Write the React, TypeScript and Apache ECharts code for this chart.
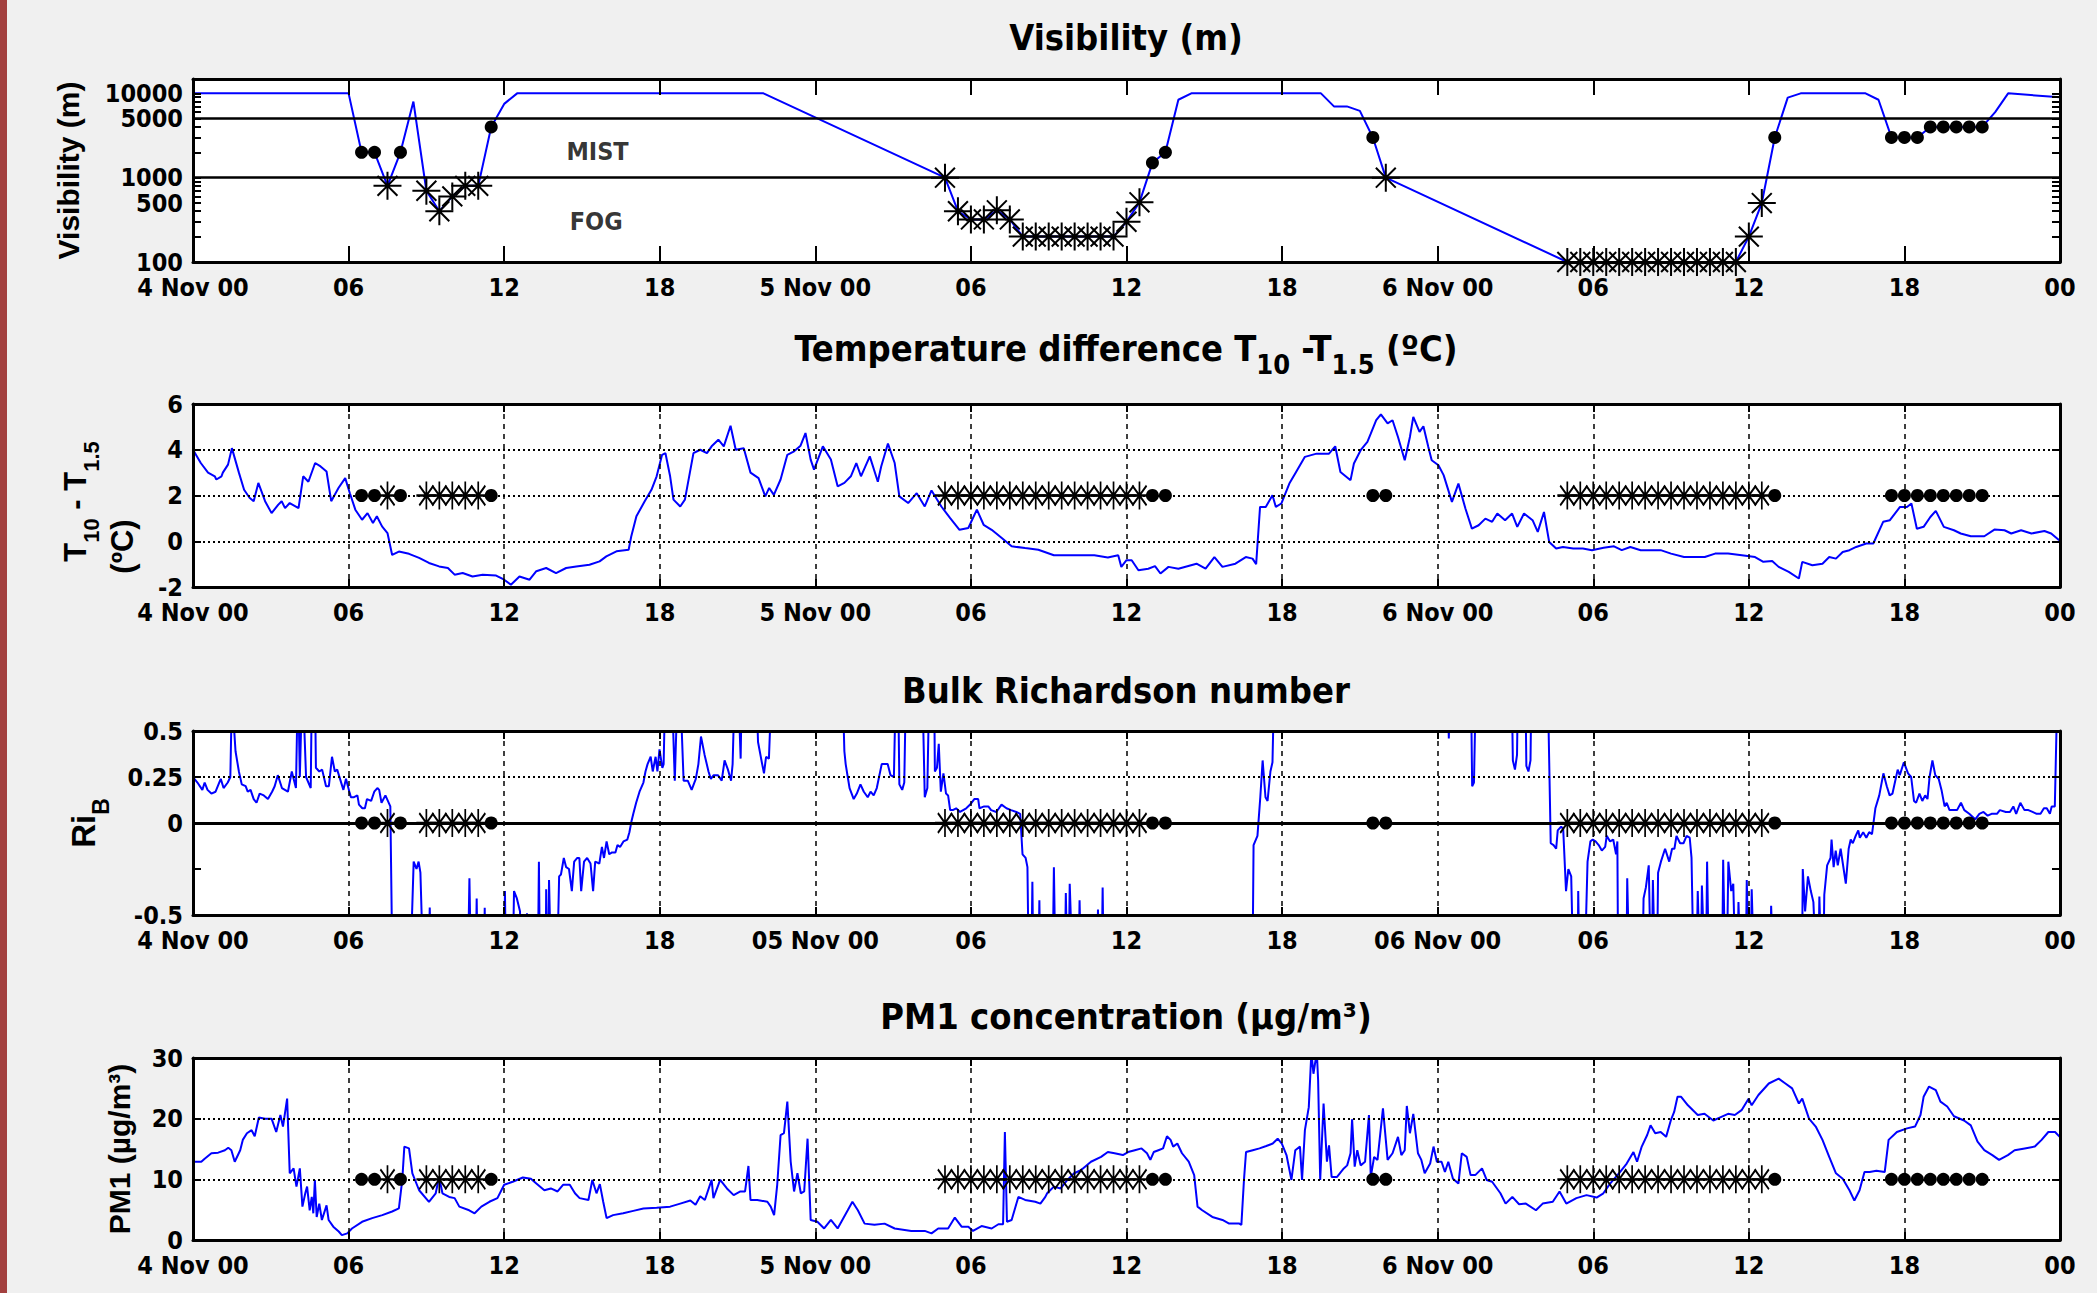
import React, { useEffect, useRef } from "react";
import * as echarts from "echarts";

// ---------------- DATA ----------------
const xTickLabels = ["4 Nov 00", "06", "12", "18", "5 Nov 00", "06", "12", "18", "6 Nov 00", "06", "12", "18", "00"];
const xTickLabelsRi = ["4 Nov 00", "06", "12", "18", "05 Nov 00", "06", "12", "18", "06 Nov 00", "06", "12", "18", "00"];

// Visibility (m) line, [hour since 4 Nov 00:00, metres]
const visibilityLine: [number, number][] = [
  [0, 10000], [6, 10000], [6.5, 2000], [7, 2000], [7.5, 800], [8, 2000], [8.5, 8000], [9, 700], [9.5, 400],
  [10, 600], [10.5, 800], [11, 800], [11.5, 4000], [12, 7500], [12.5, 10000], [22, 10000], [29, 1000],
  [29.5, 400], [30, 320], [30.5, 320], [31, 410], [31.5, 320], [32, 200], [32.5, 200], [33, 200], [33.5, 200],
  [34, 200], [34.5, 200], [35, 200], [35.5, 200], [36, 300], [36.5, 510], [37, 1500], [37.5, 2000], [38, 8400],
  [38.5, 10000], [43.5, 10000], [44, 7000], [44.5, 7000], [45, 6200], [45.5, 3000], [46, 1000], [53, 100],
  [53.5, 100], [54, 100], [54.5, 100], [55, 100], [55.5, 100], [56, 100], [56.5, 100], [57, 100], [57.5, 100],
  [58, 100], [58.5, 100], [59, 100], [59.5, 100], [60, 200], [60.5, 500], [61, 3000], [61.5, 8900], [62, 10000],
  [64.5, 10000], [65, 8400], [65.5, 3000], [66, 3000], [66.5, 3000], [67, 4000], [67.5, 4000], [68, 4000],
  [68.5, 4000], [69, 4000], [69.5, 6000], [70, 10000], [72, 9000],
];
const visMist: [number, number][] = [
  [6.5, 2000], [7, 2000], [8, 2000], [11.5, 4000], [37, 1500], [37.5, 2000], [45.5, 3000], [61, 3000],
  [65.5, 3000], [66, 3000], [66.5, 3000], [67, 4000], [67.5, 4000], [68, 4000], [68.5, 4000], [69, 4000],
];
const visFog: [number, number][] = [
  [7.5, 800], [9, 700], [9.5, 400], [10, 600], [10.5, 800], [11, 800], [29, 1000], [29.5, 400], [30, 320],
  [30.5, 320], [31, 410], [31.5, 320], [32, 200], [32.5, 200], [33, 200], [33.5, 200], [34, 200], [34.5, 200],
  [35, 200], [35.5, 200], [36, 300], [36.5, 510], [46, 1000], [53, 100], [53.5, 100], [54, 100], [54.5, 100],
  [55, 100], [55.5, 100], [56, 100], [56.5, 100], [57, 100], [57.5, 100], [58, 100], [58.5, 100], [59, 100],
  [59.5, 100], [60, 200], [60.5, 500],
];
const visDecadeLabels = [100, 1000, 10000];
const visHalfLabels = [500, 5000];
const visMinorTicks = [100, 200, 300, 400, 500, 600, 700, 800, 900, 1000, 2000, 3000, 4000, 5000, 6000, 7000, 8000, 9000, 10000];
const visThresholds = [1000, 5000];
const visMax = 14800;
const zoneText = ["MIST", "FOG"];
const zoneHour = [15.6, 15.55];
const zoneVis = [2020, 305];

// markers used on the lower three panels
const mistHours = [6.5, 7, 8, 11.5, 37, 37.5, 45.5, 46, 61, 65.5, 66, 66.5, 67, 67.5, 68, 68.5, 69];
const fogHours = [
  7.5, 9, 9.5, 10, 10.5, 11,
  29, 29.5, 30, 30.5, 31, 31.5, 32, 32.5, 33, 33.5, 34, 34.5, 35, 35.5, 36, 36.5,
  53, 53.5, 54, 54.5, 55, 55.5, 56, 56.5, 57, 57.5, 58, 58.5, 59, 59.5, 60, 60.5,
];
const tempMarkerLevel = 2;
const riMarkerLevel = 0;
const pmMarkerLevel = 10;

// T10 - T1.5 (degC)
const tempDiff: [number, number][] = [
  [0, 4.0], [0.3, 3.42], [0.58, 3.0], [0.84, 2.84], [0.9, 2.7], [1.1, 2.84], [1.15, 3.0], [1.35, 3.35], [1.5, 4.07],
  [1.77, 3.0], [1.97, 2.25], [2.18, 1.9], [2.34, 1.75], [2.52, 2.55], [2.78, 1.75], [3.03, 1.23], [3.29, 1.6],
  [3.42, 1.75], [3.55, 1.45], [3.73, 1.67], [4.07, 1.45], [4.25, 2.84], [4.45, 2.6], [4.71, 3.42], [4.92, 3.27],
  [5.15, 3.05], [5.33, 1.75], [5.61, 2.33], [5.87, 2.76], [6.05, 2.1], [6.26, 1.38], [6.52, 0.94], [6.73, 1.23],
  [6.94, 0.8], [7.09, 1.09], [7.29, 0.65], [7.5, 0.36], [7.68, -0.6], [7.94, -0.45], [8.33, -0.55], [8.72, -0.73],
  [9.1, -0.95], [9.49, -1.1], [9.83, -1.17], [10.09, -1.46], [10.4, -1.39], [10.78, -1.54], [11.17, -1.46],
  [11.69, -1.5], [12.0, -1.68], [12.26, -1.9], [12.59, -1.54], [12.98, -1.68], [13.24, -1.31], [13.62, -1.17],
  [14.0, -1.39], [14.39, -1.17], [14.78, -1.1], [15.29, -1.03], [15.68, -0.88], [15.94, -0.66], [16.33, -0.44],
  [16.8, -0.37], [16.9, 0.21], [17.1, 1.09], [17.42, 1.75], [17.68, 2.25], [17.88, 2.84], [18.09, 3.78],
  [18.22, 3.85], [18.4, 2.84], [18.53, 1.82], [18.79, 1.52], [18.97, 1.82], [19.3, 3.85], [19.56, 4.0],
  [19.82, 3.85], [20.0, 4.15], [20.26, 4.44], [20.47, 4.15], [20.73, 5.05], [20.93, 4.0], [21.24, 4.07],
  [21.5, 3.0], [21.81, 2.76], [22.07, 1.96], [22.22, 2.33], [22.4, 2.03], [22.66, 2.7], [22.92, 3.78],
  [23.18, 3.93], [23.43, 4.18], [23.62, 4.73], [23.82, 3.57], [23.95, 3.13], [24.29, 4.15], [24.6, 3.57],
  [24.86, 2.4], [25.12, 2.55], [25.37, 2.84], [25.58, 3.42], [25.76, 2.84], [26.1, 3.71], [26.41, 2.6],
  [26.54, 3.27], [26.8, 4.27], [27.06, 3.42], [27.24, 1.96], [27.58, 1.67], [27.91, 2.1], [28.22, 1.52],
  [28.48, 2.22], [28.86, 1.52], [29.2, 1.01], [29.56, 0.5], [29.9, 0.58], [30.23, 1.38], [30.49, 0.72],
  [30.8, 0.5], [31.19, 0.14], [31.57, -0.22], [32.09, -0.3], [32.6, -0.37], [33.2, -0.61], [34.0, -0.61],
  [34.76, -0.61], [35.28, -0.71], [35.68, -0.61], [35.8, -1.12], [36.0, -0.83], [36.2, -0.83], [36.46, -1.27],
  [36.84, -1.2], [37.1, -1.09], [37.31, -1.41], [37.62, -1.12], [38.0, -1.2], [38.35, -1.09], [38.7, -0.98],
  [39.05, -1.2], [39.39, -0.69], [39.7, -1.12], [40.2, -0.98], [40.6, -0.69], [40.86, -0.76], [41.0, -1.0],
  [41.15, 1.5], [41.37, 1.5], [41.63, 2.01], [41.76, 1.5], [41.97, 1.65], [42.28, 2.52], [42.54, 3.03],
  [42.88, 3.69], [43.33, 3.83], [43.81, 3.83], [44.05, 4.15], [44.25, 3.03], [44.64, 2.67], [44.77, 3.4],
  [45.03, 3.98], [45.29, 4.34], [45.42, 4.7], [45.63, 5.29], [45.81, 5.55], [46.07, 5.15], [46.26, 5.29],
  [46.47, 4.56], [46.73, 3.54], [46.93, 4.56], [47.06, 5.44], [47.3, 4.78], [47.45, 5.03], [47.64, 4.12],
  [47.77, 3.54], [48.03, 3.32], [48.23, 2.89], [48.55, 1.72], [48.8, 2.52], [49.07, 1.43], [49.32, 0.55],
  [49.58, 0.7], [49.84, 0.99], [50.1, 0.85], [50.3, 1.21], [50.6, 0.92], [50.87, 1.21], [51.07, 0.63],
  [51.33, 1.21], [51.66, 0.92], [51.86, 0.41], [52.1, 1.28], [52.3, -0.03], [52.57, -0.32], [52.83, -0.25],
  [53.23, -0.32], [53.6, -0.32], [53.95, -0.39], [54.4, -0.28], [54.8, -0.22], [55.1, -0.39], [55.43, -0.25],
  [55.83, -0.39], [56.6, -0.39], [57.0, -0.54], [57.5, -0.69], [58.3, -0.69], [58.7, -0.54], [59.2, -0.54],
  [59.73, -0.61], [60.24, -0.69], [60.56, -0.9], [60.9, -0.86], [61.15, -1.12], [61.54, -1.34], [61.93, -1.63],
  [62.06, -0.9], [62.45, -1.05], [62.84, -0.98], [63.1, -0.69], [63.36, -0.76], [63.62, -0.47], [63.88, -0.39],
  [64.14, -0.25], [64.53, -0.1], [64.8, -0.1], [65.18, 0.85], [65.44, 0.92], [65.83, 1.5], [66.1, 1.5],
  [66.27, 1.65], [66.48, 0.55], [66.74, 0.63], [67.0, 1.06], [67.21, 1.33], [67.52, 0.63], [67.91, 0.48],
  [68.17, 0.34], [68.56, 0.22], [69.08, 0.22], [69.47, 0.51], [69.86, 0.48], [70.12, 0.34], [70.5, 0.48],
  [70.9, 0.34], [71.4, 0.45], [71.66, 0.34], [71.97, 0.04],
];

// Bulk Richardson number (values beyond +/-0.5 are off the axis)
const richardson: [number, number][] = [
  [0, 0.25], [0.17, 0.22], [0.36, 0.18], [0.45, 0.22], [0.56, 0.18], [0.71, 0.16], [0.87, 0.17], [1.07, 0.24],
  [1.18, 0.19], [1.34, 0.22], [1.44, 0.25], [1.5, 0.7], [1.64, 0.39], [1.77, 0.28], [1.88, 0.21], [2.03, 0.2],
  [2.11, 0.17], [2.22, 0.18], [2.34, 0.13], [2.45, 0.11], [2.57, 0.16], [2.73, 0.15], [2.89, 0.13], [3.05, 0.17],
  [3.15, 0.2], [3.27, 0.26], [3.43, 0.19], [3.66, 0.17], [3.81, 0.28], [3.97, 0.19], [4.05, 0.8], [4.12, 0.25],
  [4.22, 0.8], [4.36, 0.25], [4.54, 0.19], [4.59, 0.8], [4.7, 0.8], [4.74, 0.3], [4.87, 0.28], [4.98, 0.29],
  [5.13, 0.2], [5.24, 0.2], [5.36, 0.36], [5.47, 0.28], [5.56, 0.29], [5.67, 0.24], [5.8, 0.18], [5.9, 0.24],
  [6.03, 0.17], [6.09, 0.14], [6.21, 0.14], [6.34, 0.15], [6.4, 0.1], [6.53, 0.08], [6.63, 0.08], [6.71, 0.13],
  [6.87, 0.12], [6.99, 0.17], [7.11, 0.19], [7.18, 0.18], [7.27, 0.11], [7.42, 0.15], [7.61, 0.09], [7.69, -0.8],
  [8.38, -0.8], [8.51, -0.21], [8.62, -0.25], [8.7, -0.21], [8.77, -0.27], [8.88, -0.8], [9.08, -0.8],
  [9.13, -0.46], [9.18, -0.8], [10.6, -0.8], [10.66, -0.3], [10.72, -0.8], [10.9, -0.8], [10.94, -0.41],
  [10.98, -0.8], [11.22, -0.8], [11.25, -0.46], [11.28, -0.8], [12.0, -0.8], [12.03, -0.37], [12.07, -0.8],
  [12.33, -0.8], [12.38, -0.37], [12.49, -0.41], [12.61, -0.48], [12.68, -0.8], [12.85, -0.8], [12.88, -0.49],
  [12.91, -0.8], [13.3, -0.8], [13.34, -0.21], [13.38, -0.8], [13.6, -0.8], [13.62, -0.36], [13.66, -0.8],
  [13.7, -0.8], [13.73, -0.31], [13.81, -0.8], [14.04, -0.8], [14.12, -0.29], [14.19, -0.28], [14.3, -0.19],
  [14.39, -0.24], [14.5, -0.25], [14.61, -0.37], [14.7, -0.21], [14.82, -0.19], [14.9, -0.19], [14.97, -0.37],
  [15.08, -0.21], [15.2, -0.19], [15.33, -0.22], [15.43, -0.37], [15.51, -0.21], [15.67, -0.22], [15.77, -0.13],
  [15.85, -0.19], [15.95, -0.1], [16.05, -0.17], [16.16, -0.16], [16.29, -0.16], [16.37, -0.12], [16.47, -0.13],
  [16.6, -0.1], [16.75, -0.09], [16.83, -0.05], [16.91, 0.01], [16.98, 0.05], [17.09, 0.11], [17.22, 0.17],
  [17.37, 0.22], [17.45, 0.28], [17.53, 0.32], [17.65, 0.36], [17.73, 0.28], [17.84, 0.36], [17.91, 0.28],
  [17.99, 0.4], [18.1, 0.3], [18.15, 0.32], [18.22, 0.8], [18.45, 0.8], [18.58, 0.23], [18.7, 0.8], [18.77, 0.8],
  [18.92, 0.23], [19.08, 0.23], [19.23, 0.18], [19.39, 0.24], [19.49, 0.32], [19.59, 0.47], [19.73, 0.37],
  [19.88, 0.28], [19.97, 0.24], [20.08, 0.26], [20.24, 0.26], [20.39, 0.23], [20.5, 0.34], [20.63, 0.29],
  [20.75, 0.23], [20.81, 0.32], [20.9, 0.8], [21.01, 0.8], [21.12, 0.35], [21.17, 0.8], [21.71, 0.8],
  [21.79, 0.44], [21.95, 0.32], [22.02, 0.27], [22.1, 0.36], [22.21, 0.35], [22.33, 0.8],
  [25.04, 0.8], [25.12, 0.39], [25.17, 0.32], [25.25, 0.25], [25.32, 0.19], [25.48, 0.13], [25.6, 0.16],
  [25.74, 0.21], [25.87, 0.17], [26.02, 0.14], [26.13, 0.17], [26.25, 0.15], [26.37, 0.19], [26.56, 0.32],
  [26.79, 0.32], [26.9, 0.26], [27.03, 0.25], [27.11, 0.8], [27.19, 0.8], [27.24, 0.21], [27.35, 0.18],
  [27.43, 0.22], [27.5, 0.8], [28.12, 0.8], [28.22, 0.14], [28.32, 0.19], [28.4, 0.8], [28.58, 0.8],
  [28.61, 0.28], [28.69, 0.3], [28.76, 0.43], [28.84, 0.17], [28.94, 0.27], [29.04, 0.16], [29.12, 0.15],
  [29.2, 0.07], [29.3, 0.07], [29.43, 0.08], [29.58, 0.06], [29.82, 0.08], [29.97, 0.1], [30.13, 0.13],
  [30.28, 0.13], [30.33, 0.08], [30.51, 0.09], [30.67, 0.09], [30.78, 0.07], [30.98, 0.06], [31.18, 0.1],
  [31.37, 0.08], [31.55, 0.07], [31.75, 0.06], [31.9, 0.05], [31.99, -0.17], [32.11, -0.19], [32.18, -0.24],
  [32.23, -0.8], [32.33, -0.8], [32.37, -0.32], [32.41, -0.8], [32.6, -0.8], [32.64, -0.42], [32.68, -0.8],
  [33.15, -0.8], [33.2, -0.24], [33.26, -0.8], [33.62, -0.8], [33.66, -0.38], [33.72, -0.8], [33.77, -0.8],
  [33.81, -0.33], [33.92, -0.8], [34.15, -0.8], [34.19, -0.42], [34.25, -0.8], [34.86, -0.8], [34.9, -0.47],
  [34.95, -0.8], [35.04, -0.8], [35.08, -0.35], [35.12, -0.8], [40.86, -0.8], [40.9, -0.12], [41.05, -0.07],
  [41.16, 0.14], [41.25, 0.34], [41.36, 0.14], [41.44, 0.12], [41.55, 0.28], [41.63, 0.33], [41.7, 0.8],
  [48.38, 0.8], [48.43, 0.46], [48.48, 0.8], [49.28, 0.8], [49.33, 0.2], [49.4, 0.22], [49.48, 0.8],
  [50.85, 0.8], [50.9, 0.34], [50.98, 0.29], [51.06, 0.37], [51.1, 0.8], [51.38, 0.8], [51.42, 0.31],
  [51.5, 0.28], [51.58, 0.34], [51.62, 0.8], [52.24, 0.8], [52.36, -0.11], [52.47, -0.12], [52.57, -0.14],
  [52.63, -0.04], [52.76, -0.02], [52.84, -0.03], [52.95, -0.37], [53.04, -0.25], [53.15, -0.29], [53.23, -0.8],
  [53.4, -0.8], [53.42, -0.37], [53.47, -0.8], [53.67, -0.8], [53.78, -0.21], [53.89, -0.1], [53.98, -0.09],
  [54.09, -0.1], [54.21, -0.12], [54.33, -0.15], [54.46, -0.13], [54.52, -0.07], [54.65, -0.1], [54.77, -0.09],
  [54.88, -0.17], [54.93, -0.1], [54.96, -0.8], [55.28, -0.8], [55.31, -0.3], [55.39, -0.8], [55.9, -0.8],
  [55.94, -0.41], [56.03, -0.35], [56.14, -0.23], [56.22, -0.8], [56.26, -0.8], [56.3, -0.31], [56.38, -0.8],
  [56.46, -0.8], [56.5, -0.27], [56.61, -0.21], [56.77, -0.14], [56.93, -0.21], [57.04, -0.14], [57.13, -0.14],
  [57.21, -0.07], [57.35, -0.11], [57.48, -0.11], [57.6, -0.07], [57.72, -0.08], [57.79, -0.19], [57.87, -0.8],
  [57.98, -0.8], [58.03, -0.37], [58.11, -0.8], [58.15, -0.8], [58.19, -0.34], [58.3, -0.8], [58.35, -0.8],
  [58.39, -0.21], [58.46, -0.8], [58.97, -0.8], [59.01, -0.2], [59.09, -0.8], [59.15, -0.8], [59.21, -0.21],
  [59.32, -0.37], [59.4, -0.33], [59.48, -0.8], [59.56, -0.8], [59.6, -0.43], [59.68, -0.8], [59.88, -0.8],
  [59.92, -0.31], [60.0, -0.8], [60.07, -0.8], [60.11, -0.36], [60.2, -0.8], [60.83, -0.8], [60.86, -0.45],
  [60.94, -0.8], [62.05, -0.8], [62.08, -0.25], [62.17, -0.48], [62.28, -0.29], [62.39, -0.37], [62.49, -0.43],
  [62.6, -0.8], [62.68, -0.8], [62.72, -0.4], [62.8, -0.8], [62.87, -0.8], [62.91, -0.39], [63.02, -0.23],
  [63.15, -0.19], [63.19, -0.09], [63.27, -0.24], [63.35, -0.15], [63.43, -0.23], [63.54, -0.14], [63.74, -0.33],
  [63.85, -0.14], [63.93, -0.09], [64.01, -0.11], [64.12, -0.07], [64.22, -0.04], [64.28, -0.08], [64.41, -0.05],
  [64.53, -0.08], [64.64, -0.05], [64.75, -0.06], [64.88, 0.08], [65.03, 0.15], [65.19, 0.27], [65.32, 0.2],
  [65.43, 0.15], [65.54, 0.16], [65.74, 0.29], [65.82, 0.26], [65.98, 0.33], [66.14, 0.27], [66.26, 0.25],
  [66.37, 0.12], [66.45, 0.11], [66.58, 0.16], [66.69, 0.12], [66.8, 0.15], [66.89, 0.13], [66.97, 0.25],
  [67.08, 0.34], [67.19, 0.26], [67.32, 0.24], [67.43, 0.18], [67.55, 0.09], [67.63, 0.11], [67.74, 0.07],
  [67.87, 0.07], [68.03, 0.07], [68.18, 0.11], [68.31, 0.07], [68.5, 0.05], [68.73, 0.02], [68.89, 0.05],
  [69.05, 0.06], [69.21, 0.04], [69.36, 0.05], [69.57, 0.05], [69.68, 0.07], [69.91, 0.06], [70.07, 0.06],
  [70.2, 0.09], [70.31, 0.05], [70.47, 0.11], [70.63, 0.07], [70.78, 0.07], [70.94, 0.06], [71.1, 0.05],
  [71.25, 0.05], [71.38, 0.08], [71.49, 0.08], [71.61, 0.05], [71.68, 0.09], [71.8, 0.09], [71.91, 0.8],
];

// PM1 concentration (ug/m3)
const pm1: [number, number][] = [
  [0, 12.9], [0.32, 12.9], [0.45, 13.4], [0.71, 14.3], [0.97, 14.4], [1.23, 14.8], [1.36, 15.2], [1.48, 14.8],
  [1.61, 12.9], [1.82, 14.8], [1.92, 16.5], [2.08, 17.6], [2.26, 18.1], [2.38, 17.1], [2.54, 20.2], [2.78, 20.0],
  [3.03, 20.0], [3.21, 17.8], [3.37, 20.6], [3.47, 18.7], [3.63, 23.3], [3.73, 11.0], [3.88, 11.8], [3.99, 8.8],
  [4.12, 11.8], [4.22, 5.5], [4.33, 7.7], [4.4, 8.8], [4.5, 4.9], [4.58, 7.1], [4.64, 4.4], [4.7, 9.9],
  [4.77, 3.8], [4.87, 6.0], [4.97, 3.3], [5.15, 5.7], [5.23, 3.3], [5.41, 2.2], [5.62, 1.4], [5.74, 0.8],
  [5.95, 1.1], [6.13, 1.9], [6.52, 3.0], [6.91, 3.6], [7.3, 4.1], [7.68, 4.7], [7.94, 5.2], [8.07, 9.9],
  [8.15, 15.4], [8.33, 15.1], [8.46, 11.0], [8.72, 8.2], [9.1, 6.3], [9.36, 7.7], [9.49, 10.4], [9.62, 7.7],
  [9.88, 7.1], [10.09, 6.9], [10.27, 5.5], [10.65, 4.9], [10.86, 4.4], [11.12, 5.5], [11.43, 6.3], [11.74, 6.9],
  [12.0, 9.1], [12.33, 9.6], [12.72, 10.3], [13.03, 10.1], [13.24, 9.3], [13.55, 8.2], [13.8, 8.5], [14.06, 8.0],
  [14.27, 9.1], [14.53, 9.1], [14.73, 7.7], [14.91, 6.9], [15.25, 6.6], [15.4, 9.9], [15.56, 7.7], [15.69, 9.2],
  [15.82, 6.3], [15.95, 3.6], [16.2, 4.1], [16.59, 4.4], [16.98, 4.8], [17.37, 5.2], [17.88, 5.3], [18.4, 5.5],
  [18.79, 6.0], [19.18, 6.5], [19.38, 5.8], [19.56, 7.2], [19.74, 6.6], [20.0, 9.9], [20.07, 6.9], [20.33, 9.9],
  [20.59, 8.5], [20.85, 7.4], [21.11, 8.0], [21.29, 8.0], [21.42, 12.2], [21.5, 6.6], [21.76, 6.6], [22.15, 6.3],
  [22.28, 5.5], [22.41, 4.1], [22.53, 9.1], [22.66, 17.3], [22.79, 17.6], [22.92, 22.8], [23.05, 12.9],
  [23.18, 8.0], [23.31, 11.0], [23.44, 7.7], [23.57, 8.0], [23.7, 16.7], [23.82, 3.3], [24.08, 3.0], [24.34, 1.9],
  [24.6, 3.3], [24.86, 1.9], [25.25, 4.9], [25.43, 6.3], [25.64, 4.9], [25.9, 2.7], [26.28, 2.5], [26.67, 2.7],
  [27.06, 1.9], [27.7, 1.5], [28.22, 1.5], [28.48, 1.1], [28.74, 1.9], [29.12, 1.9], [29.38, 3.7], [29.64, 2.2],
  [29.9, 2.2], [30.08, 1.5], [30.41, 2.3], [30.8, 1.9], [31.06, 2.6], [31.24, 2.6], [31.31, 17.8], [31.39, 3.0],
  [31.57, 3.3], [31.83, 7.1], [32.09, 6.6], [32.48, 6.3], [32.68, 6.0], [32.87, 7.1], [32.94, 7.7], [33.2, 8.8],
  [33.46, 8.5], [33.72, 9.9], [33.98, 11.0], [34.24, 11.5], [34.63, 12.9], [35.02, 13.7], [35.28, 14.5],
  [35.54, 14.3], [35.86, 14.0], [36.06, 14.5], [36.32, 14.8], [36.58, 15.1], [36.79, 14.3], [36.92, 13.2],
  [37.05, 14.5], [37.23, 14.8], [37.41, 15.1], [37.56, 17.1], [37.7, 16.5], [37.8, 15.4], [37.96, 15.9],
  [38.14, 14.3], [38.4, 12.9], [38.61, 10.7], [38.74, 5.5], [38.92, 4.9], [39.31, 3.8], [39.7, 3.3], [39.96, 2.7],
  [40.35, 2.7], [40.43, 2.5], [40.53, 9.9], [40.61, 14.5], [40.87, 14.8], [41.13, 15.1], [41.39, 15.5],
  [41.64, 15.9], [41.83, 16.7], [41.99, 15.9], [42.17, 14.0], [42.36, 9.9], [42.51, 14.8], [42.69, 15.4],
  [42.77, 9.9], [42.88, 18.1], [43.03, 21.9], [43.13, 31], [43.21, 27.4], [43.34, 31], [43.39, 26.3],
  [43.47, 9.9], [43.6, 22.5], [43.73, 12.9], [43.81, 15.6], [43.91, 10.4], [44.12, 10.4], [44.38, 11.8],
  [44.51, 12.3], [44.64, 14.3], [44.7, 19.9], [44.8, 12.1], [44.9, 14.8], [45.03, 12.3], [45.2, 12.9],
  [45.35, 20.6], [45.42, 10.4], [45.55, 13.7], [45.68, 13.2], [45.89, 21.7], [46.07, 13.2], [46.26, 14.3],
  [46.47, 17.0], [46.6, 14.0], [46.73, 14.8], [46.81, 22.1], [46.93, 17.6], [47.06, 20.8], [47.24, 14.3],
  [47.37, 13.2], [47.5, 11.0], [47.71, 12.6], [47.84, 15.4], [47.97, 12.9], [48.15, 12.9], [48.28, 11.2],
  [48.41, 12.9], [48.59, 10.1], [48.8, 9.3], [48.93, 14.3], [49.12, 13.7], [49.27, 10.7], [49.45, 10.7],
  [49.71, 11.8], [49.89, 9.9], [50.1, 9.6], [50.42, 7.7], [50.62, 6.0], [50.88, 7.1], [51.14, 5.9], [51.4, 6.0],
  [51.79, 4.9], [52.05, 6.0], [52.44, 6.3], [52.7, 8.0], [52.96, 6.0], [53.35, 6.9], [53.74, 7.4], [54.13, 7.0],
  [54.39, 7.7], [54.65, 9.3], [55.03, 11.2], [55.29, 12.6], [55.55, 14.5], [55.69, 12.9], [55.87, 15.4],
  [56.08, 17.3], [56.21, 18.9], [56.39, 17.6], [56.6, 17.8], [56.81, 17.0], [56.99, 19.7], [57.12, 21.1],
  [57.25, 23.6], [57.39, 23.6], [57.65, 22.2], [58.03, 20.6], [58.29, 20.8], [58.63, 19.7], [58.94, 20.3],
  [59.2, 20.8], [59.46, 20.6], [59.72, 21.4], [59.99, 23.3], [60.11, 22.2], [60.37, 23.9], [60.77, 25.8],
  [61.15, 26.6], [61.41, 25.8], [61.67, 25.0], [61.93, 22.5], [62.06, 23.3], [62.32, 20.0], [62.58, 18.7],
  [62.84, 16.5], [63.1, 13.7], [63.36, 11.0], [63.62, 10.1], [63.88, 8.2], [64.07, 6.5], [64.27, 8.2],
  [64.46, 11.2], [64.66, 11.2], [64.92, 11.4], [65.24, 11.2], [65.39, 16.5], [65.71, 17.8], [66.1, 18.4],
  [66.41, 18.7], [66.62, 20.6], [66.74, 23.6], [66.95, 25.3], [67.21, 24.7], [67.39, 22.8], [67.65, 22.0],
  [67.91, 20.4], [68.3, 19.7], [68.56, 18.9], [68.82, 16.2], [69.08, 14.8], [69.39, 14.0], [69.65, 13.2],
  [69.99, 14.0], [70.25, 14.8], [70.64, 15.1], [71.03, 15.4], [71.29, 16.5], [71.55, 17.8], [71.81, 17.8],
  [71.99, 17.0],
];

// ---------------- LAYOUT / STYLE ----------------
const GRID_LEFT = 193;
const GRID_RIGHT = 37;
const PANEL_TOPS = [79, 404, 731, 1058];
const PANEL_HEIGHTS = [183, 183, 184, 182];
const TITLE_Y = [40, 351, 693, 1019];
const PLOT_CENTER_X = 1126;
const LABEL_FONT = "'DejaVu Sans Condensed', 'DejaVu Sans', sans-serif";
const NAME_FONT = "'Liberation Sans', Arial, sans-serif";
const BLUE = "#0000ff";
const ASTERISK = "path://M10 0L10 20M0 10L20 10M2.9 2.9L17.1 17.1M2.9 17.1L17.1 2.9";

const tickLabelStyle = { color: "#000", fontFamily: LABEL_FONT, fontWeight: "bold" as const, fontSize: 25 };

function xAxesFor(gi: number, labels: string[], gridLines: boolean, tickLen: number) {
  const common: any = {
    gridIndex: gi, type: "value", min: 0, max: 72, interval: 6, z: 10,
    axisLine: { show: true, onZero: false, lineStyle: { color: "#000", width: 3 } },
    axisTick: { show: true, inside: true, length: tickLen, lineStyle: { color: "#000", width: 2 } },
  };
  return [
    {
      ...common, position: "bottom",
      axisLabel: {
        show: true, margin: 14, showMinLabel: true, showMaxLabel: true, lineHeight: 22, ...tickLabelStyle,
        formatter: (v: number) => labels[Math.round(v / 6)] ?? "",
      },
      splitLine: gridLines ? { show: true, lineStyle: { color: "#000", type: [5, 5], width: 1.5 } } : { show: false },
    },
    { ...common, position: "top", axisLabel: { show: false }, splitLine: { show: false } },
  ];
}

function yPair(gi: number, left: any, right: any) {
  const base: any = {
    gridIndex: gi, type: "value", z: 10,
    axisLine: { show: true, onZero: false, lineStyle: { color: "#000", width: 3 } },
  };
  return [
    { ...base, position: "left", ...left },
    { ...base, position: "right", axisLabel: { show: false }, ...right },
  ];
}

const nameStyle = (extra: any = {}) => ({
  color: "#000", fontFamily: NAME_FONT, fontWeight: "bold", fontSize: 30, ...extra,
});

function markerSeries(gi: number, hours: number[] | [number, number][], level: number | null, kind: "mist" | "fog", big: boolean) {
  const data = (hours as any[]).map((h) => (Array.isArray(h) ? h : [h, level]));
  if (kind === "mist") {
    return {
      type: "scatter", xAxisIndex: gi * 2, yAxisIndex: gi * 2, silent: true, z: 5,
      symbol: "circle", symbolSize: 13,
      itemStyle: { color: "#000", opacity: 1 }, data,
    };
  }
  return {
    type: "scatter", xAxisIndex: gi * 2, yAxisIndex: gi * 2, silent: true, z: 5,
    symbol: ASTERISK, symbolSize: big ? [28, 28] : [20, 28],
    itemStyle: { color: "rgba(0,0,0,0)", borderColor: "#000", borderWidth: 2, opacity: 1 }, data,
  };
}

function lineSeries(gi: number, data: [number, number][], extra: any = {}) {
  return {
    type: "line", xAxisIndex: gi * 2, yAxisIndex: gi * 2, silent: true, z: 3,
    showSymbol: false, symbol: "none", clip: true,
    lineStyle: { color: BLUE, width: 2 }, data, ...extra,
  };
}

function buildOption() {
  const L = Math.log10;
  const grids = PANEL_TOPS.map((t, i) => ({
    left: GRID_LEFT, right: GRID_RIGHT, top: t, height: PANEL_HEIGHTS[i],
    show: true, backgroundColor: "#fff", borderWidth: 0,
  }));

  const xAxis = [
    ...xAxesFor(0, xTickLabels, false, 16),
    ...xAxesFor(1, xTickLabels, true, 8),
    ...xAxesFor(2, xTickLabelsRi, true, 8),
    ...xAxesFor(3, xTickLabels, true, 8),
  ];

  const yLabel = { show: true, margin: 10, showMinLabel: true, showMaxLabel: true, lineHeight: 20, ...tickLabelStyle };
  const tick = (extra: any = {}) => ({ show: true, inside: true, length: 8, lineStyle: { color: "#000", width: 2 }, ...extra });
  const visMinorLog = visMinorTicks.map(L);
  const visFmt = (v: number) => String(Math.round(Math.pow(10, v)));

  const yAxis = [
    ...yPair(0, {
      min: 2, max: L(visMax),
      name: "Visibility (m)", nameLocation: "middle", nameRotate: 90, nameGap: 110, nameTextStyle: nameStyle(),
      axisLabel: { ...yLabel, customValues: visDecadeLabels.map(L), formatter: visFmt },
      axisTick: tick({ customValues: visMinorLog }),
      splitLine: { show: false },
    }, {
      min: 2, max: L(visMax),
      axisTick: tick({ customValues: visMinorLog }),
      splitLine: { show: false },
    }),
    ...yPair(1, {
      min: -2, max: 6, interval: 2,
      name: "{m|T}{s|10}{m| - T}{s|1.5}{g1| }\n{m2|(ºC)}{g2| }", nameLocation: "middle", nameRotate: 90, nameGap: 44,
      nameTextStyle: nameStyle({
        rich: {
          m: { fontFamily: NAME_FONT, fontWeight: "bold", fontSize: 31, lineHeight: 36, verticalAlign: "top", color: "#000" },
          s: { fontFamily: NAME_FONT, fontWeight: "bold", fontSize: 22, lineHeight: 24, padding: [20, 0, 0, 0], verticalAlign: "top", color: "#000" },
          g1: { fontSize: 31, lineHeight: 36, width: 12 },
          m2: { fontFamily: NAME_FONT, fontWeight: "bold", fontSize: 31, lineHeight: 53, verticalAlign: "middle", color: "#000" },
          g2: { fontSize: 31, lineHeight: 53, width: 102 },
        },
      }),
      axisLabel: { ...yLabel },
      axisTick: tick(),
      splitLine: { show: true, lineStyle: { color: "#000", type: [2, 3], width: 2 } },
    }, {
      min: -2, max: 6, interval: 2,
      axisTick: tick(),
      splitLine: { show: false },
    }),
    ...yPair(2, {
      min: -0.5, max: 0.5,
      name: "{m|Ri}{s|B}", nameLocation: "middle", nameRotate: 90, nameGap: 88,
      nameTextStyle: nameStyle({
        rich: {
          m: { fontFamily: NAME_FONT, fontWeight: "bold", fontSize: 33, lineHeight: 38, verticalAlign: "top", color: "#000" },
          s: { fontFamily: NAME_FONT, fontWeight: "bold", fontSize: 23, lineHeight: 25, padding: [22, 0, 0, 0], verticalAlign: "top", color: "#000" },
        },
      }),
      axisLabel: { ...yLabel, customValues: [-0.5, 0, 0.25, 0.5] },
      axisTick: tick({ customValues: [-0.5, -0.25, 0, 0.25, 0.5] }),
      splitLine: { show: false },
    }, {
      min: -0.5, max: 0.5,
      axisTick: tick({ customValues: [-0.5, -0.25, 0, 0.25, 0.5] }),
      splitLine: { show: false },
    }),
    ...yPair(3, {
      min: 0, max: 30, interval: 10,
      name: "PM1 (µg/m³)", nameLocation: "middle", nameRotate: 90, nameGap: 59, nameTextStyle: nameStyle(),
      axisLabel: { ...yLabel },
      axisTick: tick(),
      splitLine: { show: true, lineStyle: { color: "#000", type: [2, 3], width: 2 } },
    }, {
      min: 0, max: 30, interval: 10,
      axisTick: tick(),
      splitLine: { show: false },
    }),
    // extra (label-only) axis for the 500 / 5000 visibility labels
    {
      gridIndex: 0, type: "value", position: "left", min: 2, max: L(visMax), z: 10,
      axisLine: { show: false }, axisTick: { show: false }, splitLine: { show: false },
      axisLabel: { ...yLabel, customValues: visHalfLabels.map(L), formatter: visFmt },
    },
  ];

  const series: any[] = [
    // Panel 1: visibility
    lineSeries(0, visibilityLine.map(([h, v]) => [h, L(v)] as [number, number]), {
      markLine: {
        silent: true, symbol: ["none", "none"], label: { show: false },
        lineStyle: { color: "#000", type: "solid", width: 2.5 },
        data: visThresholds.map((v) => ({ yAxis: L(v) })),
      },
    }),
    markerSeries(0, visMist.map(([h, v]) => [h, L(v)] as [number, number]), null, "mist", true),
    markerSeries(0, visFog.map(([h, v]) => [h, L(v)] as [number, number]), null, "fog", true),
    {
      type: "scatter", xAxisIndex: 0, yAxisIndex: 0, silent: true, z: 6,
      symbolSize: 1, itemStyle: { color: "rgba(0,0,0,0)" },
      label: { show: true, position: "inside", color: "#000", fontFamily: LABEL_FONT, fontWeight: "bold", fontSize: 25, formatter: (p: any) => p.data[2] },
      data: zoneText.map((t, i) => [zoneHour[i], L(zoneVis[i]), t]),
    },
    // Panel 2: temperature difference
    lineSeries(1, tempDiff),
    markerSeries(1, mistHours, tempMarkerLevel, "mist", false),
    markerSeries(1, fogHours, tempMarkerLevel, "fog", false),
    // Panel 3: Richardson
    lineSeries(2, richardson, {
      markLine: {
        silent: true, symbol: ["none", "none"], label: { show: false },
        data: [
          { yAxis: 0.25, lineStyle: { color: "#000", type: [2, 3], width: 2 } },
          { yAxis: 0, lineStyle: { color: "#000", type: "solid", width: 3 } },
        ],
      },
    }),
    markerSeries(2, mistHours, riMarkerLevel, "mist", false),
    markerSeries(2, fogHours, riMarkerLevel, "fog", false),
    // Panel 4: PM1
    lineSeries(3, pm1),
    markerSeries(3, mistHours, pmMarkerLevel, "mist", false),
    markerSeries(3, fogHours, pmMarkerLevel, "fog", false),
  ];

  const titleRich = {
    a: { fontFamily: LABEL_FONT, fontWeight: "bold", fontSize: 36, lineHeight: 42, verticalAlign: "top", fill: "#000" },
    b: { fontFamily: LABEL_FONT, fontWeight: "bold", fontSize: 27, lineHeight: 28, padding: [21, 0, 0, 0], verticalAlign: "top", fill: "#000" },
  };
  const titles = [
    "{a|Visibility (m)}",
    "{a|Temperature difference T}{b|10}{a| -T}{b|1.5}{a| (ºC)}",
    "{a|Bulk Richardson number}",
    "{a|PM1 concentration (µg/m³)}",
  ];

  const graphic: any[] = [
    { type: "rect", left: 0, top: 0, shape: { x: 0, y: 0, width: 7, height: 1293 }, style: { fill: "#a3403f" }, silent: true },
    ...titles.map((t, i) => ({
      type: "text", x: PLOT_CENTER_X, y: TITLE_Y[i], silent: true,
      style: { text: t, rich: titleRich, align: "center", verticalAlign: "middle", fill: "#000" },
    })),
  ];

  return {
    animation: false,
    backgroundColor: "#f0f0f0",
    textStyle: { fontFamily: LABEL_FONT },
    grid: grids,
    xAxis,
    yAxis,
    series,
    graphic,
  };
}

export default function App() {
  const ref = useRef<HTMLDivElement>(null);
  useEffect(() => {
    document.body.style.margin = "0";
    const chart = echarts.init(ref.current!, null, { renderer: "svg" });
    chart.setOption(buildOption() as any);
    return () => chart.dispose();
  }, []);
  return <div ref={ref} style={{ width: 2097, height: 1293, background: "#f0f0f0" }} />;
}
